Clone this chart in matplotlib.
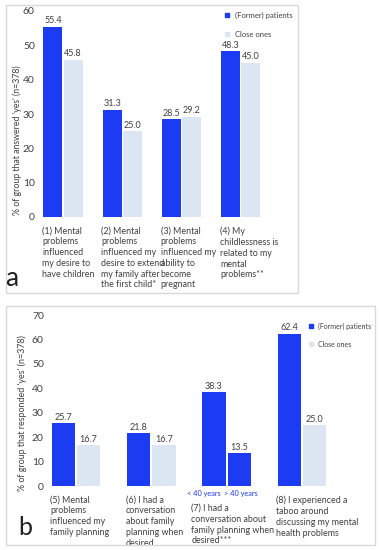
import matplotlib
matplotlib.use("Agg")
import matplotlib.pyplot as plt
from matplotlib.patches import Rectangle
from matplotlib.lines import Line2D

plt.rcParams['font.family'] = ['Lato', 'DejaVu Sans']

BLUE = '#1b3cf2'
LIGHT = '#dce6f2'
TXT = '#404040'

# Panel a data
cats_a = ["(1) Mental\nproblems\ninfluenced\nmy desire to\nhave children",
          "(2) Mental\nproblems\ninfluenced my\ndesire to extend\nmy family after\nthe first child*",
          "(3) Mental\nproblems\ninfluenced my\nability to\nbecome\npregnant",
          "(4) My\nchildlessness is\nrelated to my\nmental\nproblems**"]
patients_a = [55.4, 31.3, 28.5, 48.3]
close_a = [45.8, 25.0, 29.2, 45.0]

# Panel b data
cats_b = ["(5) Mental\nproblems\ninfluenced my\nfamily planning",
          "(6) I had a\nconversation\nabout family\nplanning when\ndesired",
          "(7) I had a\nconversation about\nfamily planning when\ndesired***",
          "(8) I experienced a\ntaboo around\ndiscussing my mental\nhealth problems"]
patients_b = [25.7, 21.8, 38.3, 62.4]
second_b = [16.7, 16.7, 13.5, 25.0]
age_labels = ["< 40 years", "> 40 years"]
legend_labels = ["(Former) patients", "Close ones"]

W, H = 379, 550
fig = plt.figure(figsize=(W / 100, H / 100), dpi=100)

def fx(px):
    return px / W

def fy(py):
    return 1 - py / H

# Frames
fig.patches.append(Rectangle((fx(6), fy(293)), fx(292), (293 - 5) / H, transform=fig.transFigure,
                             fill=False, edgecolor='#d9d9d9', linewidth=1))
fig.patches.append(Rectangle((fx(6), fy(545)), fx(369), (545 - 306) / H, transform=fig.transFigure,
                             fill=False, edgecolor='#d9d9d9', linewidth=1))

def setup(ax, ymax, step):
    for s in ax.spines.values():
        s.set_visible(False)
    ax.set_ylim(0, ymax)
    ax.set_yticks(range(0, ymax + 1, step))
    ax.tick_params(axis='y', length=0, labelsize=7.5, colors=TXT, pad=3)
    ax.set_xticks([])

h = [Line2D([], [], marker='s', color=BLUE, linestyle='none', markersize=3),
     Line2D([], [], marker='s', color=LIGHT, linestyle='none', markersize=3)]

# ---------- Panel a ----------
ax_l, ax_r = 39, 290
sp = 59.3
c0 = 63
ax = fig.add_axes([fx(ax_l), fy(217), fx(ax_r - ax_l), (217 - 11) / H])
xs = list(range(4))
ax.set_xlim(-(c0 - ax_l) / sp, (ax_r - c0) / sp)
setup(ax, 60, 10)
w, off = 0.32, 0.17
ax.bar([x - off for x in xs], patients_a, w, color=BLUE)
ax.bar([x + off for x in xs], close_a, w, color=LIGHT)
for x, v in zip(xs, patients_a):
    ax.text(x - off, v + 0.4, f"{v:.1f}", ha='center', va='bottom', fontsize=6.5, color=TXT)
for x, v in zip(xs, close_a):
    ax.text(x + off, v + 0.4, f"{v:.1f}", ha='center', va='bottom', fontsize=6.5, color=TXT)
for x, c in zip(xs, cats_a):
    ax.annotate(c, xy=(x - off - w / 2, 0), xycoords='data', xytext=(-1, -7), textcoords='offset points',
                ha='left', va='top', fontsize=6.4, color=TXT, linespacing=1.25, annotation_clip=False)
fig.text(fx(17), fy(140), "% of group that answered 'yes' (n=378)", rotation=90,
         ha='center', va='center', fontsize=6.3, color=TXT)
ax.legend(h, legend_labels, loc='upper left',
          bbox_to_anchor=(fx(220), fy(8)), bbox_transform=fig.transFigure, frameon=False,
          fontsize=5.5, handlelength=0.8, handletextpad=0.6, labelspacing=1.55, borderpad=0,
          labelcolor=TXT)
fig.text(fx(5), fy(291), "a", fontsize=19, color='#202020', ha='left', va='bottom')

# ---------- Panel b ----------
ax_l, ax_r = 48, 370
sp = 75.3
c0 = 76
ax2 = fig.add_axes([fx(ax_l), fy(486), fx(ax_r - ax_l), (486 - 315) / H])
ax2.set_xlim(-(c0 - ax_l) / sp, (ax_r - c0) / sp)
setup(ax2, 70, 10)
w, off = 0.31, 0.167
colors2 = [LIGHT, LIGHT, BLUE, LIGHT]
ax2.bar([x - off for x in xs], patients_b, w, color=BLUE)
ax2.bar([x + off for x in xs], second_b, w, color=colors2)
for x, v in zip(xs, patients_b):
    ax2.text(x - off, v + 0.5, f"{v:.1f}", ha='center', va='bottom', fontsize=6.5, color=TXT)
for x, v in zip(xs, second_b):
    ax2.text(x + off, v + 0.5, f"{v:.1f}", ha='center', va='bottom', fontsize=6.5, color=TXT)
for i, (x, c) in enumerate(zip(xs, cats_b)):
    dy = -13 if i == 2 else -7
    dx = -8 if i == 2 else -1
    ax2.annotate(c, xy=(x - off - w / 2, 0), xycoords='data', xytext=(dx, dy), textcoords='offset points',
                 ha='left', va='top', fontsize=6.4, color=TXT, linespacing=1.25, annotation_clip=False)
age_pos = [2 - 0.30, 2 + 0.184]
for xx, lab in zip(age_pos, age_labels):
    ax2.annotate(lab, xy=(xx, 0), xycoords='data', xytext=(0, -3), textcoords='offset points',
                 ha='center', va='top', fontsize=5.3, color=BLUE, annotation_clip=False)
fig.text(fx(22), fy(413), "% of group that responded 'yes' (n=378)", rotation=90,
         ha='center', va='center', fontsize=6.4, color=TXT)
ax2.legend(h, legend_labels, loc='upper left',
           bbox_to_anchor=(fx(305), fy(319)), bbox_transform=fig.transFigure, frameon=False,
           fontsize=5.0, handlelength=0.8, handletextpad=0.6, labelspacing=1.6, borderpad=0,
           labelcolor=TXT)
fig.text(fx(18), fy(539), "b", fontsize=18, color='#202020', ha='left', va='bottom')

fig.savefig("out.png", dpi=100)
